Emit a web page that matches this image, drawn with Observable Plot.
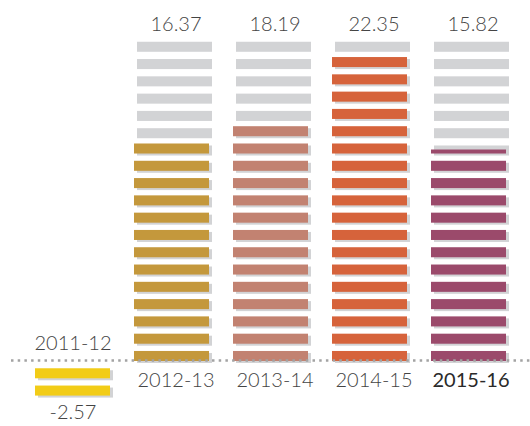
<!DOCTYPE html>
<html>
<head>
<meta charset="utf-8">
<script src="https://cdn.jsdelivr.net/npm/d3@7"></script>
<script src="https://cdn.jsdelivr.net/npm/@observablehq/plot@0.6"></script>
<style>
  html, body { margin: 0; padding: 0; background: #fff; }
  #chart svg { display: block; }
</style>
</head>
<body>
<div id="chart"></div>
<script>
// ---- data ----
const years = ["2011-12", "2012-13", "2013-14", "2014-15", "2015-16"];
const values = [-2.57, 16.37, 18.19, 22.35, 15.82];
const valueLabels = ["-2.57", "16.37", "18.19", "22.35", "15.82"];
// filled stripes per year (negative = below the baseline)
const filledStripes = [-2, 13, 14, 18, 12];
// fraction of an extra, partially filled stripe on top
const partialStripe = [0, 0, 0, 0, 0.4];
// grey background stripes above the baseline
const backgroundStripes = [0, 19, 19, 19, 19];
const colors = ["#F2CC17", "#C4983C", "#C28271", "#D6633B", "#9B4A6B"];

// ---- build stripe rows ----
const ROW = 0.58; // stripe thickness in stripe units
const grey = [];
const filled = [];
years.forEach((year, j) => {
  const n = filledStripes[j];
  const bg = backgroundStripes[j];
  const greySet = new Set();
  for (let i = 0; i < bg; i++) greySet.add(i);
  if (n >= 0) {
    for (let i = 0; i < n; i++) { filled.push({year, y1: i, y2: i + ROW, c: colors[j]}); greySet.add(i); }
    if (partialStripe[j] > 0) {
      filled.push({year, y1: n, y2: n + ROW * partialStripe[j], c: colors[j]});
      greySet.add(n);
    }
  } else {
    for (let i = -1; i >= n; i--) { filled.push({year, y1: i, y2: i + ROW, c: colors[j]}); greySet.add(i); }
  }
  for (const i of greySet) grey.push({year, y1: i, y2: i + ROW});
});

const labels = years.map((year, j) => ({
  year,
  value: values[j],
  vlabel: valueLabels[j],
  vy: values[j] >= 0 ? 19.1 : -3.3,
  yy: values[j] >= 0 ? -1.5 : 0.69,
  last: j === years.length - 1
}));
const pos = labels.filter(d => d.value >= 0);
const neg = labels.filter(d => d.value < 0);

const STEP = 17.29, BASE = 361;
const chart = Plot.plot({
  width: 530,
  height: 426,
  marginLeft: 11,
  marginRight: 0,
  marginTop: 0,
  marginBottom: 0,
  style: {fontFamily: "Lato, sans-serif", background: "#fff"},
  x: {type: "band", domain: years, range: [33, 508], paddingInner: 0.24, paddingOuter: 0, axis: null},
  y: {domain: [-3, 20], range: [BASE + 3 * STEP, BASE - 20 * STEP], axis: null},
  marks: [
    Plot.barY(grey, {x: "year", y1: "y1", y2: "y2", fill: "#D2D3D5", dx: 3, dy: 2}),
    Plot.barY(filled, {x: "year", y1: "y1", y2: "y2", fill: "c"}),
    Plot.ruleY([0.06], {stroke: "#A3A3A3", strokeWidth: 2.5, strokeDasharray: "2.5 4.2"}),
    Plot.text(pos, {x: "year", y: "vy", text: "vlabel", dx: 4, lineAnchor: "bottom", fontSize: 20, fill: "#444", fontWeight: 300}),
    Plot.text(neg, {x: "year", y: "vy", text: "vlabel", lineAnchor: "bottom", fontSize: 20, fill: "#444", fontWeight: 300}),
    Plot.text(pos.filter(d => !d.last), {x: "year", y: "yy", text: "year", dx: 4, lineAnchor: "bottom", fontSize: 20, fill: "#444", fontWeight: 300}),
    Plot.text(neg, {x: "year", y: "yy", text: "year", lineAnchor: "bottom", fontSize: 20, fill: "#444", fontWeight: 300}),
    Plot.text(pos.filter(d => d.last), {x: "year", y: "yy", text: "year", dx: 2, lineAnchor: "bottom", fontSize: 20, fill: "#2a2a2a", fontWeight: 400})
  ]
});
document.getElementById("chart").appendChild(chart);
</script>
</body>
</html>
